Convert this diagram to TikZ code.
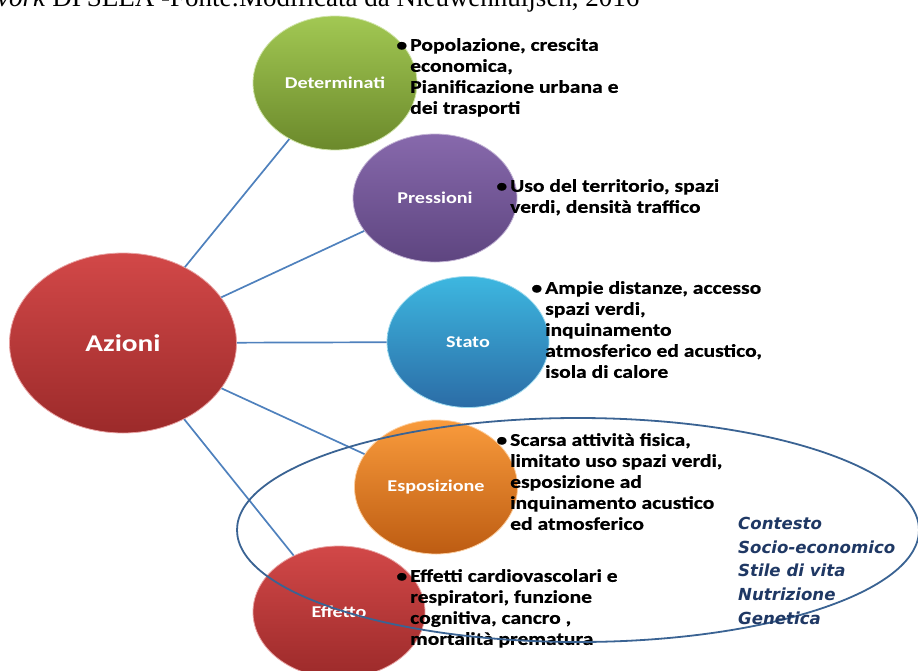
\documentclass[tikz,border=0pt]{standalone}
\usepackage{fontspec}
\setmainfont{Carlito}
\newfontfamily\largo{Carlito}[FakeStretch=1.22]
\newfontfamily\grasso{Carlito}[FakeStretch=1.2, FakeBold=0.6]
\newfontfamily\fonteserif{Liberation Serif}
\newfontfamily\contesto{DejaVu Sans}
\usetikzlibrary{shapes.geometric}

\definecolor{linkblue}{HTML}{4F81BD}
\definecolor{ringblue}{HTML}{3A6393}
\definecolor{ctxnavy}{HTML}{1F3864}
\definecolor{verdeA}{HTML}{A2C853}
\definecolor{verdeB}{HTML}{6B892B}
\definecolor{violaA}{HTML}{8769AC}
\definecolor{violaB}{HTML}{5E4580}
\definecolor{bluA}{HTML}{3DB7E0}
\definecolor{bluB}{HTML}{2B6CA6}
\definecolor{aranA}{HTML}{F99B3C}
\definecolor{aranB}{HTML}{BD5C12}
\definecolor{rossoA}{HTML}{D24848}
\definecolor{rossoB}{HTML}{9C2A2A}

\begin{document}
\begin{tikzpicture}[x=1pt, y=-1pt,
  bolla/.style 2 args={ellipse, inner sep=0pt, text=white, top color=#1, bottom color=#2, draw=#1!50!white, line width=0.8pt, font=\largo\bfseries\fontsize{16.5}{19}\selectfont},
  punti/.style={anchor=north west, align=left, inner sep=0pt, font=\grasso\bfseries\fontsize{18}{21}\selectfont},
  link/.style={linkblue, line width=1.7pt}]
\useasboundingbox (0,0) rectangle (918,670);

% Didascalia (tagliata in alto)
\node[anchor=base west, inner sep=0pt, font=\fonteserif\fontsize{27}{30}\selectfont] (fonte) at (-3,6) {\textit{vork} DPSEEA -Fonte:Modificata da Nieuwenhuijsen, 2016};

% Bolle
\node[bolla={rossoA}{rossoB}, minimum width=227pt, minimum height=180pt, font=\largo\bfseries\fontsize{24}{28}\selectfont] (azioni) at (123,343) {Azioni};
\node[bolla={verdeA}{verdeB}, minimum width=164pt, minimum height=134pt] (det) at (335,83) {Determinati};
\node[bolla={violaA}{violaB}, minimum width=164pt, minimum height=128pt] (press) at (435,198) {Pressioni};
\node[bolla={bluA}{bluB}, minimum width=162pt, minimum height=131pt] (stato) at (468,342) {Stato};
\node[bolla={aranA}{aranB}, minimum width=163pt, minimum height=134pt] (espo) at (436,487) {Esposizione};
\node[bolla={rossoA}{rossoB}, minimum width=172pt, minimum height=132pt] (effetto) at (339,612) {Effetto};

% Collegamenti
\foreach \b in {det,press,stato,espo,effetto}
  \draw[link] (azioni) -- (\b);

% Testi
\node[punti] (tdet) at (410,38) {\llap{\textbullet\,}Popolazione, crescita\\economica,\\Pianificazione urbana e\\dei trasporti};
\node[punti] (tpress) at (510,179) {\llap{\textbullet\,}Uso del territorio, spazi\\verdi, densità traffico};
\node[punti] (tstato) at (545,281) {\llap{\textbullet\,}Ampie distanze, accesso\\spazi verdi,\\inquinamento\\atmosferico ed acustico,\\isola di calore};
\node[punti] (tespo) at (510,433) {\llap{\textbullet\,}Scarsa attività fisica,\\limitato uso spazi verdi,\\esposizione ad\\inquinamento acustico\\ed atmosferico};
\node[punti] (teffetto) at (410,569) {\llap{\textbullet\,}Effetti cardiovascolari e\\respiratori, funzione\\cognitiva, cancro ,\\mortalità prematura};

% Contesto
\draw[ringblue, line width=1.8pt] (578,530) ellipse [x radius=341pt, y radius=112pt];
\node[anchor=north west, align=left, inner sep=0pt, text=ctxnavy, font=\contesto\bfseries\itshape\fontsize{16.6}{23.7}\selectfont] (ctx) at (738,517) {Contesto\\Socio-economico\\Stile di vita\\Nutrizione\\Genetica};
\end{tikzpicture}
\end{document}
